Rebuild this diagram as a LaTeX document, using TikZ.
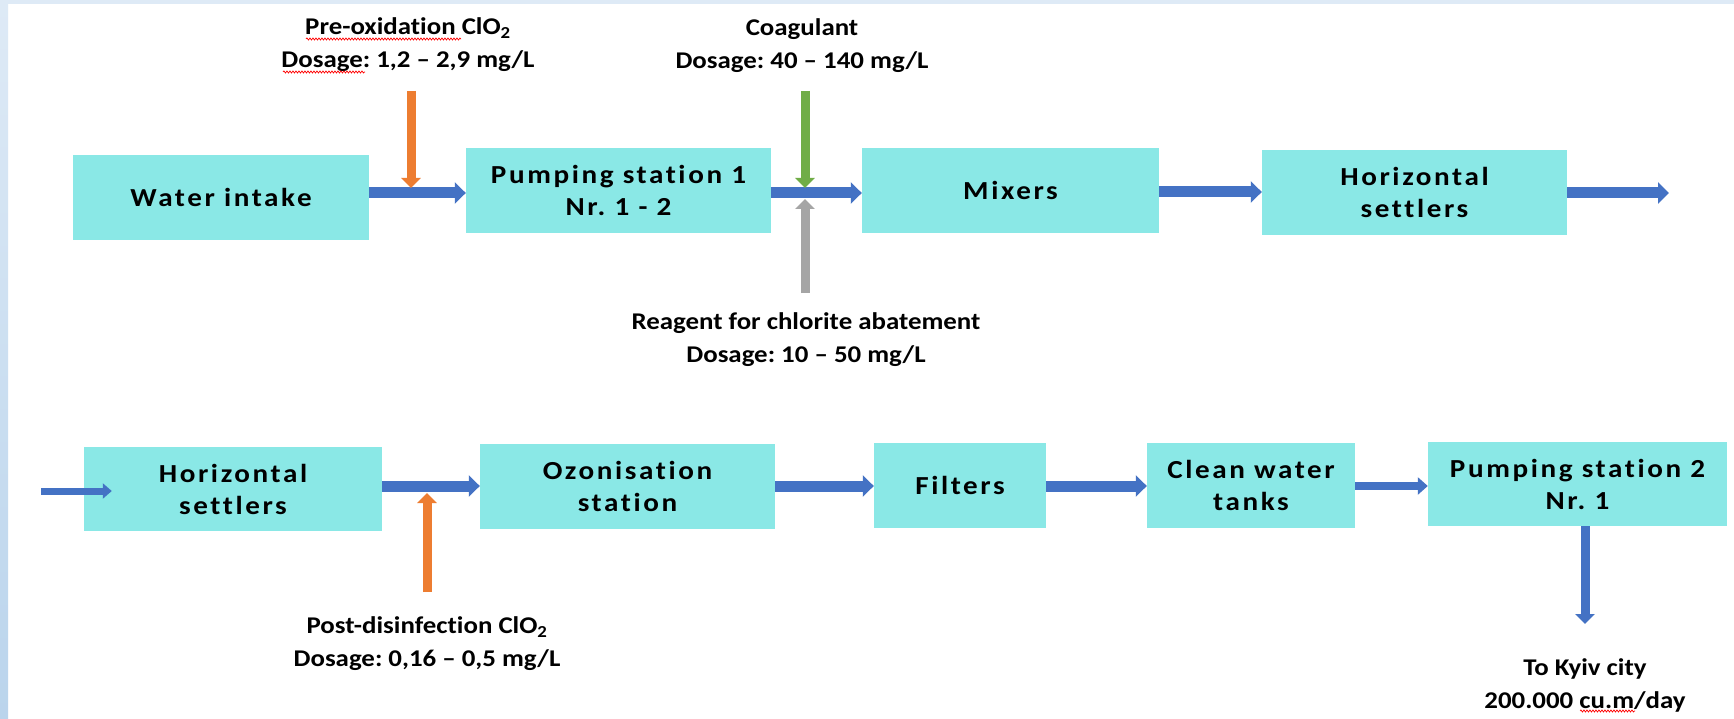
\documentclass[tikz,border=0pt]{standalone}
\usepackage{fontspec}
\setmainfont{Carlito}[Ligatures=NoCommon, FakeStretch=1.12]
\newfontfamily\boxfont{Carlito}[Ligatures=NoCommon, FakeStretch=1.12, LetterSpace=10]
\usetikzlibrary{arrows.meta,decorations.pathmorphing}
\definecolor{boxfill}{RGB}{138,232,230}
\definecolor{flowblue}{RGB}{68,114,196}
\definecolor{dosorange}{RGB}{237,125,49}
\definecolor{dosgreen}{RGB}{112,173,71}
\definecolor{dosgray}{RGB}{165,165,165}
\definecolor{striptop}{RGB}{222,234,246}
\definecolor{stripbot}{RGB}{186,212,236}
\frenchspacing
\begin{document}
\begin{tikzpicture}[x=1pt,y=-1pt,
  stage/.style={fill=boxfill, draw=none, inner sep=0pt, align=center,
    font=\boxfont\bfseries\fontsize{26}{32}\selectfont},
  dose/.style={align=center, inner sep=0pt, font=\bfseries\fontsize{24}{33}\selectfont},
  flow/.style={draw=flowblue, line width=11pt, -{Triangle[width=21pt,length=11pt]}},
  thinflow/.style={draw=flowblue, line width=7pt, -{Triangle[width=15pt,length=9pt]}},
  midflow/.style={draw=flowblue, line width=8pt, -{Triangle[width=17pt,length=10pt]}},
  feed/.style={line width=9pt, -{Triangle[width=19pt,length=10pt]}},
  spell/.style={draw=red, line width=0.7pt, decorate,
    decoration={snake, amplitude=1pt, segment length=3pt}}
]
\useasboundingbox (0,0) rectangle (1734,719);
\fill[white] (0,0) rectangle (1734,719);
\shade[top color=striptop, bottom color=stripbot] (0,0) rectangle (8,719);
\fill[striptop] (0,0) rectangle (1734,4);

% row 1
\node[stage, minimum width=296pt, minimum height=85pt] (intake) at (221,197.5) {Water intake};
\node[stage, minimum width=305pt, minimum height=85pt] (pump1) at (618.5,190.5) {Pumping station 1\\Nr. 1 - 2};
\node[stage, minimum width=297pt, minimum height=85pt] (mixers) at (1010.5,190.5) {Mixers};
\node[stage, minimum width=305pt, minimum height=85pt] (settlersA) at (1414.5,192.5) {Horizontal\\settlers};
\coordinate (out1) at (1669,193);

% row 2
\coordinate (in2) at (41,491);
\node[stage, minimum width=298pt, minimum height=84pt] (settlersB) at (233,489) {Horizontal\\settlers};
\node[stage, minimum width=295pt, minimum height=85pt] (ozone) at (627.5,486.5) {Ozonisation\\station};
\node[stage, minimum width=172pt, minimum height=85pt] (filters) at (960,485.5) {Filters};
\node[stage, minimum width=208pt, minimum height=85pt] (tanks) at (1251,485.5) {Clean water\\tanks};
\node[stage, minimum width=299pt, minimum height=84pt] (pump2) at (1577.5,484) {Pumping station 2\\Nr. 1};

% labels
\node[dose] (preox) at (408,45) {Pre-oxidation ClO\textsubscript{2}\\Dosage: 1,2 – 2,9 mg/L};
\node[dose] (coag) at (802,46) {Coagulant\\Dosage: 40 – 140 mg/L};
\node[dose] (reag) at (806,340) {Reagent for chlorite abatement\\Dosage: 10 – 50 mg/L};
\node[dose] (post) at (427,644) {Post-disinfection ClO\textsubscript{2}\\Dosage: 0,16 – 0,5 mg/L};
\node[dose] (kyiv) at (1585,685) {To Kyiv city\\200.000 cu.m/day};

% feed points
\coordinate (j1) at (411,193);
\coordinate (j2) at (805,193);
\coordinate (j3) at (427,486);
\coordinate (ox1) at (411,91);
\coordinate (ox1e) at (411,188);
\coordinate (cg1) at (805,91);
\coordinate (cg1e) at (805,188);
\coordinate (rg1) at (805,293);
\coordinate (rg1e) at (805,199);
\coordinate (ox2) at (427,592);
\coordinate (ox2e) at (427,493);
\coordinate (city) at (1585,624);

% main flow row 1
\draw[flow] (intake.east |- j1) -- (pump1.west |- j1);
\draw[flow] (pump1.east |- j2) -- (mixers.west |- j2);
\draw[flow] (mixers.east |- 0,192) -- (settlersA.west |- 0,192);
\draw[flow] (settlersA.east |- out1) -- (out1);

% main flow row 2
\draw[thinflow] (in2) -- ([xshift=28pt]settlersB.west |- in2);
\draw[flow] (settlersB.east |- j3) -- (ozone.west |- j3);
\draw[flow] (ozone.east |- j3) -- (filters.west |- j3);
\draw[flow] (filters.east |- j3) -- (tanks.west |- j3);
\draw[midflow] (tanks.east |- j3) -- (pump2.west |- j3);
\draw[feed, draw=flowblue] (pump2.south -| city) -- (city);

% dosing arrows
\draw[feed, draw=dosorange] (ox1) -- (ox1e);
\draw[feed, draw=dosgreen] (cg1) -- (cg1e);
\draw[feed, draw=dosgray] (rg1) -- (rg1e);
\draw[feed, draw=dosorange] (ox2) -- (ox2e);

% spell-check underlines
\draw[spell] (306,39) -- (461,39);
\draw[spell] (283,72) -- (365,72);
\draw[spell] (1580,711) -- (1635,711);
\end{tikzpicture}
\end{document}
